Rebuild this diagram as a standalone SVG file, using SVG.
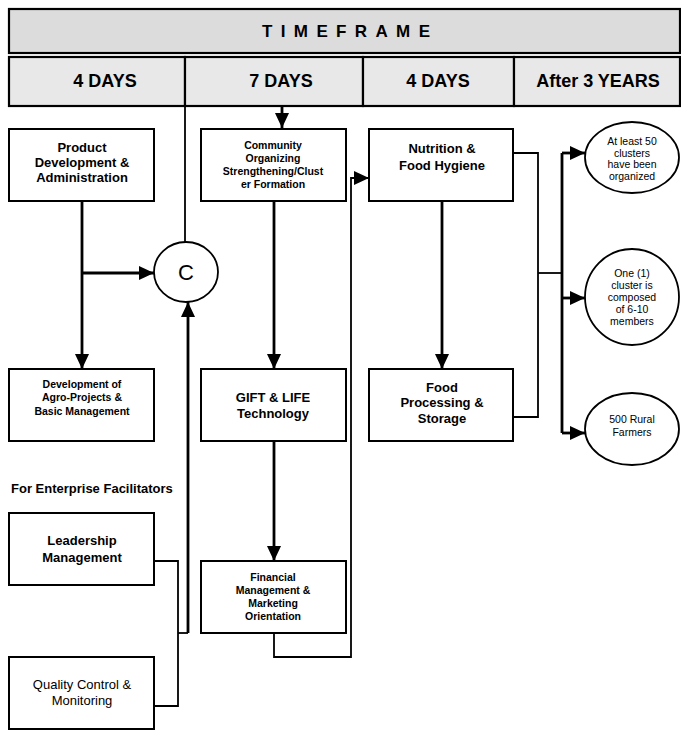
<svg xmlns="http://www.w3.org/2000/svg" width="681" height="730" viewBox="0 0 681 730">
<defs>
<marker id="ah" markerUnits="userSpaceOnUse" markerWidth="16" markerHeight="15" refX="15" refY="7" orient="auto">
<path d="M0,0 L15,7 L0,14 z" fill="#000"/>
</marker>
<style>
text{font-family:"Liberation Sans",Arial,sans-serif;fill:#000;text-anchor:middle}
.hdr{fill:#e8e8e8;stroke:#000;stroke-width:2.2}
.top{fill:#dcdcdc;stroke:#000;stroke-width:2.2}
.box{fill:#fff;stroke:#000;stroke-width:2}
.ell{fill:#fff;stroke:#000;stroke-width:1.8}
.thin{fill:none;stroke:#000;stroke-width:1.8}
.thick{fill:none;stroke:#000;stroke-width:2.8}
.b13{font-size:13px;font-weight:bold}
.b10{font-size:10.5px;font-weight:bold}
.r10{font-size:10.5px}
.r13{font-size:13px}
.h{font-size:18px;font-weight:bold}
</style>
</defs>
<rect width="681" height="730" fill="#fff"/>

<g id="header">
<rect class="top" x="9" y="9" width="671" height="44"/>
<text x="262" y="37" style="font-size:17px;font-weight:bold;text-anchor:start" textLength="168" lengthAdjust="spacing">TIMEFRAME</text>
<rect class="hdr" x="9" y="57" width="176" height="49"/>
<rect class="hdr" x="185" y="57" width="178" height="49"/>
<rect class="hdr" x="363" y="57" width="151" height="49"/>
<rect class="hdr" x="514" y="57" width="166" height="49"/>
<text class="h" x="105" y="87">4 DAYS</text>
<text class="h" x="281" y="87">7 DAYS</text>
<text class="h" x="438" y="87">4 DAYS</text>
<text class="h" x="598" y="87">After 3 YEARS</text>
</g>

<g id="connectors">
<path class="thin" d="M185,106 V242"/>
<path class="thin" d="M274,633 V657 H351 V178 H369" marker-end="url(#ah)"/>
<path class="thin" d="M513,153 H538 V417 H513"/>
<path class="thin" d="M538,273 H562"/>
<path class="thin" d="M154,561 H178 V706 H154"/>
<path class="thin" d="M178,633 H188"/>
<path class="thick" d="M188,633 V302" marker-end="url(#ah)"/>
<path class="thick" d="M282,106 V128" marker-end="url(#ah)"/>
<path class="thick" d="M82,201 V369" marker-end="url(#ah)"/>
<path class="thick" d="M82,273 H154" marker-end="url(#ah)"/>
<path class="thick" d="M274,201 V369" marker-end="url(#ah)"/>
<path class="thick" d="M274,441 V561" marker-end="url(#ah)"/>
<path class="thick" d="M442,201 V369" marker-end="url(#ah)"/>
<path class="thick" d="M562,153 V433"/>
<path class="thick" d="M562,153 H585" marker-end="url(#ah)"/>
<path class="thick" d="M562,298 H585" marker-end="url(#ah)"/>
<path class="thick" d="M562,433 H585" marker-end="url(#ah)"/>
</g>

<g id="product">
<rect class="box" x="9" y="129" width="145" height="72"/>
<text class="b13" x="82" y="152">Product</text>
<text class="b13" x="82" y="167">Development &amp;</text>
<text class="b13" x="82" y="182">Administration</text>
</g>

<g id="community">
<rect class="box" x="201" y="129" width="145" height="72"/>
<text class="b10" x="273" y="149">Community</text>
<text class="b10" x="273" y="162">Organizing</text>
<text class="b10" x="273" y="175">Strengthening/Clust</text>
<text class="b10" x="273" y="188">er Formation</text>
</g>

<g id="nutrition">
<rect class="box" x="369" y="129" width="144" height="72"/>
<text class="b13" x="442" y="153">Nutrition &amp;</text>
<text class="b13" x="442" y="170">Food Hygiene</text>
</g>

<g id="circleC">
<ellipse class="ell" cx="186" cy="272" rx="32" ry="30"/>
<text x="186" y="280" style="font-size:22px">C</text>
</g>

<g id="agro">
<rect class="box" x="9" y="369" width="145" height="72"/>
<text class="b10" x="82" y="388">Development of</text>
<text class="b10" x="82" y="401">Agro-Projects &amp;</text>
<text class="b10" x="82" y="415">Basic Management</text>
</g>

<g id="gift">
<rect class="box" x="201" y="369" width="145" height="72"/>
<text class="b13" x="273" y="402">GIFT &amp; LIFE</text>
<text class="b13" x="273" y="418">Technology</text>
</g>

<g id="foodproc">
<rect class="box" x="369" y="369" width="144" height="72"/>
<text class="b13" x="442" y="392">Food</text>
<text class="b13" x="442" y="407">Processing &amp;</text>
<text class="b13" x="442" y="423">Storage</text>
</g>

<g id="ell1">
<ellipse class="ell" cx="632" cy="157.5" rx="47" ry="35.5"/>
<text class="r10" x="632" y="145">At least 50</text>
<text class="r10" x="632" y="157">clusters</text>
<text class="r10" x="632" y="168">have been</text>
<text class="r10" x="632" y="180">organized</text>
</g>

<g id="ell2">
<ellipse class="ell" cx="632" cy="297" rx="47" ry="48"/>
<text class="r10" x="632" y="277">One (1)</text>
<text class="r10" x="632" y="289">cluster is</text>
<text class="r10" x="632" y="301">composed</text>
<text class="r10" x="632" y="313">of 6-10</text>
<text class="r10" x="632" y="325">members</text>
</g>

<g id="ell3">
<ellipse class="ell" cx="632" cy="429" rx="47" ry="36"/>
<text class="r10" x="632" y="423">500 Rural</text>
<text class="r10" x="632" y="436">Farmers</text>
</g>

<g id="label">
<text class="b13" x="11" y="493" style="text-anchor:start">For Enterprise Facilitators</text>
</g>

<g id="leadership">
<rect class="box" x="9" y="513" width="145" height="72"/>
<text class="b13" x="82" y="545">Leadership</text>
<text class="b13" x="82" y="562">Management</text>
</g>

<g id="financial">
<rect class="box" x="201" y="561" width="145" height="72"/>
<text class="b10" x="273" y="581">Financial</text>
<text class="b10" x="273" y="594">Management &amp;</text>
<text class="b10" x="273" y="607">Marketing</text>
<text class="b10" x="273" y="620">Orientation</text>
</g>

<g id="quality">
<rect class="box" x="9" y="657" width="145" height="72"/>
<text class="r13" x="82" y="689">Quality Control &amp;</text>
<text class="r13" x="82" y="705">Monitoring</text>
</g>
</svg>
